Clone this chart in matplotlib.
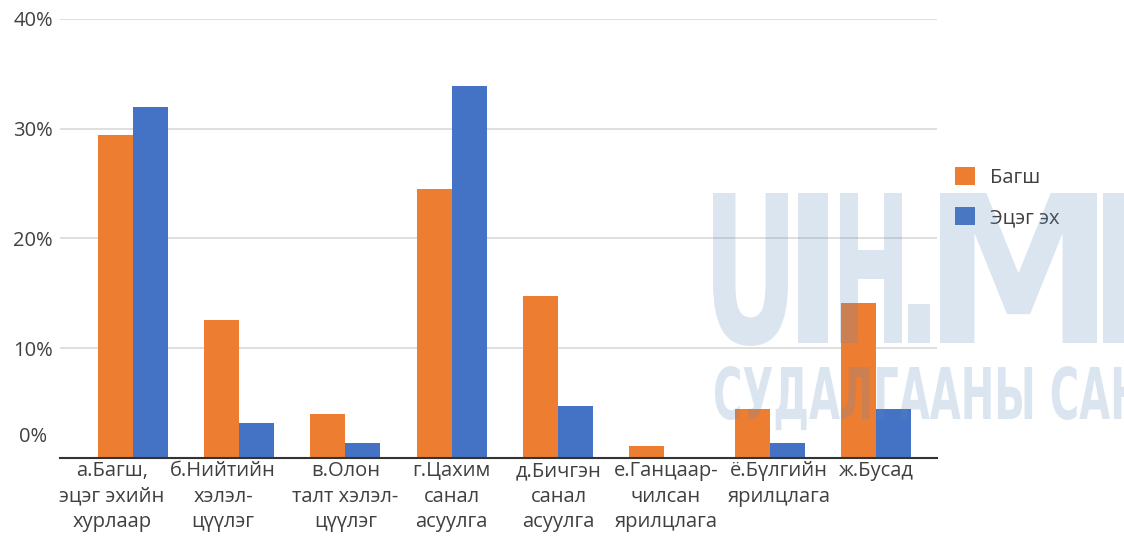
import matplotlib.pyplot as plt
import matplotlib.transforms as mtransforms
from matplotlib.textpath import TextPath
from matplotlib.patches import PathPatch
from matplotlib.font_manager import FontProperties
import numpy as np

categories = ["а.Багш,\nэцэг эхийн\nхурлаар", "б.Нийтийн\nхэлэл-\nцүүлэг",
              "в.Олон\nталт хэлэл-\nцүүлэг", "г.Цахим\nсанал\nасуулга",
              "д.Бичгэн\nсанал\nасуулга", "е.Ганцаар-\nчилсан\nярилцлага",
              "ё.Бүлгийн\nярилцлага", "ж.Бусад"]
teacher = [29.4, 12.6, 4.0, 24.5, 14.8, 1.1, 4.5, 14.1]
parents = [32.0, 3.2, 1.4, 33.9, 4.7, 0.0, 1.4, 4.5]
series_names = ["Багш", "Эцэг эх"]
yticks = [0, 10, 20, 30, 40]

plt.rcParams['font.family'] = ['Open Sans', 'DejaVu Sans']
text_color = "#404040"
W, H = 1124, 536

fig = plt.figure(figsize=(W / 100, H / 100), dpi=100)
ax = fig.add_axes([60 / W, 1 - 458 / H, 877 / W, 439 / H])

x = np.arange(len(categories))
w = 0.33
ax.bar(x - w / 2, teacher, w, color="#ED7D31", label=series_names[0], zorder=2)
ax.bar(x + w / 2, parents, w, color="#4472C4", label=series_names[1], zorder=2)

ax.set_xlim(-0.687, 7.571)
ax.set_ylim(0, 40)
ax.set_yticks(yticks[1:])
ax.set_yticklabels([f"{v}%" for v in yticks[1:]], fontsize=14.5, color=text_color)
ax.grid(axis="y", color="#d9d9d9", linewidth=1.2, zorder=0)
ax.tick_params(axis="y", length=0, pad=5)
ax.set_xticks([])

# category labels (slightly shifted like the original layout)
label_shift = [-21, -16, 0, 0, 1, 2, 9, 0]
xform = mtransforms.blended_transform_factory(ax.transData, ax.transAxes)
for i, lab in enumerate(categories):
    tr = xform + mtransforms.ScaledTranslation(label_shift[i] / 100, -3 / 100, fig.dpi_scale_trans)
    ax.text(i, 0, lab, transform=tr, ha="center", va="top", multialignment="center",
            fontsize=14.5, color=text_color, linespacing=1.38)

# 0% label sits above the baseline in the original
fig.text(47 / W, 1 - 437 / H, "0%", ha="right", va="center", fontsize=14.5, color=text_color)

for s in ["top", "right", "left"]:
    ax.spines[s].set_visible(False)
ax.spines["bottom"].set_color("#333333")
ax.spines["bottom"].set_linewidth(1.5)

leg = fig.legend(loc="upper left", bbox_to_anchor=(937 / W, 1 - 149 / H), frameon=False,
                 fontsize=14.5, handlelength=1.0, handleheight=1.0, labelspacing=0.95,
                 handletextpad=0.75)
for t in leg.get_texts():
    t.set_color(text_color)

# watermark, squeezed horizontally to look like a condensed face
wm_font = FontProperties(family="DejaVu Sans", weight="bold")
pix = mtransforms.Affine2D().scale(1 / W, 1 / H) + fig.transFigure
cap = TextPath((0, 0), "H", size=100, prop=wm_font).get_extents().height


def watermark(txt, x0, y_bottom, cap_h, width):
    path = TextPath((0, 0), txt, size=100, prop=wm_font)
    ext = path.get_extents()
    sx, sy = width / ext.width, cap_h / cap
    tr = mtransforms.Affine2D().translate(-ext.x0, 0).scale(sx, sy).translate(x0, H - y_bottom) + pix
    fig.add_artist(PathPatch(path, transform=tr, facecolor="#5b89bf", edgecolor="none",
                             alpha=0.22, zorder=10))


# first line: letters placed one by one (wide M like the original)
for ch, x0, cw in [("U", 713, 75), ("I", 798, 30), ("H", 840, 62), (".", 908, 22),
                   ("M", 940, 157), ("N", 1103, 80)]:
    watermark(ch, x0, 343, 150, cw)
watermark("СУДАЛГААНЫ САН", 715, 419, 52, 425)

fig.savefig("out.png", dpi=100)
